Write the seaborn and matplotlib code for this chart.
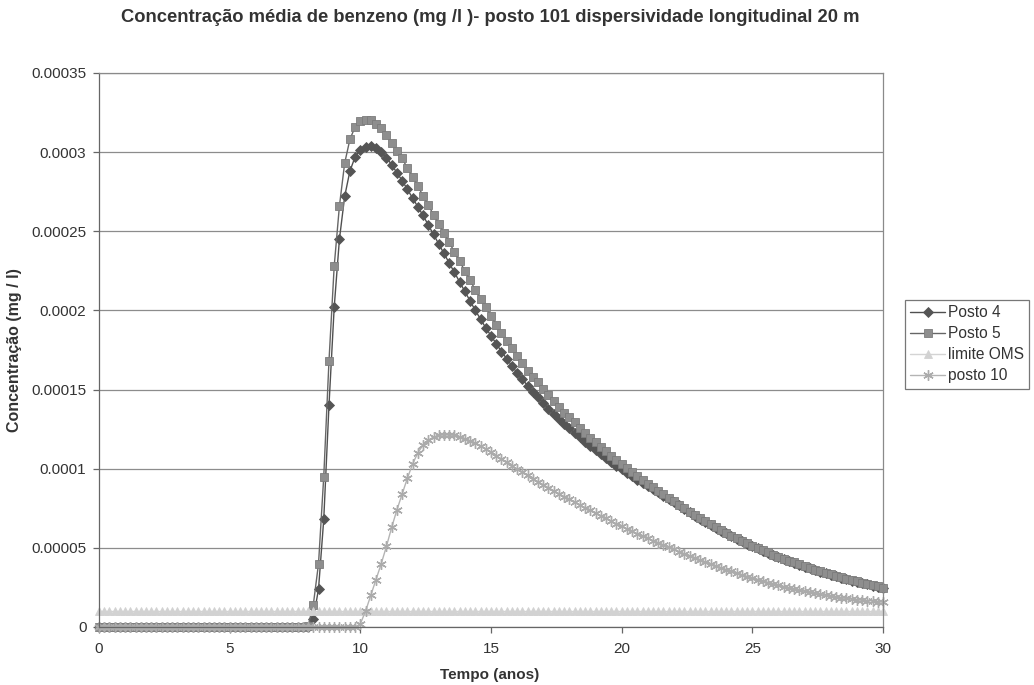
import numpy as np
import pandas as pd
import matplotlib
matplotlib.use("Agg")
import matplotlib.pyplot as plt
import seaborn as sns
from matplotlib.ticker import FuncFormatter, MultipleLocator

# ---------------- data (values in 1e-6 mg/l, time step 0.2 anos) ----------------
tempo = np.round(np.arange(151) * 0.2, 1)

posto4_u = [0] * 40 + [
    0, 5, 24, 68, 140, 202, 245, 272, 288, 297, 301.5, 303.5, 304,
    302.5, 300, 296.5, 292, 287, 282, 276.5, 271, 265.5, 260, 254, 248,
    242, 236, 230, 224, 218, 212, 206, 200, 194.5, 189, 184, 179, 174,
    169.5, 165, 160.5, 156.5, 152.5, 148.5, 145, 141.5, 138, 134.8, 131.6,
    128.5, 125.5,
    122.6, 119.8, 117, 114.3, 111.7, 109.2, 106.7, 104.3, 102, 99.7,
    97.5, 95.3, 93.1, 91, 89, 87, 85, 83, 81, 79,
    76.8, 74.6, 72.5, 70.4, 68.4, 66.4, 64.5, 62.7, 60.9, 59.1,
    57.4, 55.8, 54.2, 52.6, 51.1, 49.6, 48.2, 46.8, 45.5, 44.2,
    42.9, 41.7, 40.5, 39.3, 38.2, 37.1, 36.0, 35.0, 34.0, 33.0,
    32.0, 31.1, 30.2, 29.3, 28.5, 27.7, 26.9, 26.1, 25.3, 24.6]

posto5_u = [0] * 40 + [
    0.5, 14, 40, 95, 168, 228, 266, 293, 308, 316, 319.5, 320.5, 320,
    318, 315, 311, 306, 301, 296, 290, 284.5, 278.5, 272.5, 266.5, 260.5,
    254.5, 249, 243, 237, 231, 225, 219, 213, 207.5, 202, 196.5, 191, 186,
    181, 176, 171, 166.5, 162, 158, 154.5, 150.5, 146.5, 142.5, 139,
    135.5, 132.5,
    129.2, 126, 122.8, 119.7, 116.7, 113.8, 111, 108.2, 105.5, 102.8,
    100.2, 97.7, 95.2, 92.8, 90.5, 88.2, 86, 83.8, 81.5, 79.4,
    77.1, 74.9, 72.8, 70.7, 68.7, 66.7, 64.8, 63.0, 61.2, 59.4,
    57.7, 56.1, 54.5, 52.9, 51.4, 49.9, 48.5, 47.1, 45.8, 44.5,
    43.2, 42.0, 40.8, 39.6, 38.5, 37.4, 36.3, 35.3, 34.3, 33.3,
    32.3, 31.4, 30.5, 29.6, 28.8, 28.0, 27.2, 26.4, 25.6, 24.9]

limite_u = [10] * 151

posto10_u = [0] * 50 + [
    2, 10, 20, 30, 40, 51, 63, 74, 84, 94,
    103, 110, 115, 118, 120, 121, 121.5,
    121.5, 121, 120.2, 119, 117.6, 116, 114.2, 112.3, 110.3, 108.2,
    106.1, 104.0, 101.9, 99.8, 97.8, 95.8, 93.8, 91.8, 89.9, 88.0,
    86.1, 84.2, 82.4, 80.6, 78.8, 77.1, 75.4, 73.7, 72.0, 70.3,
    68.6, 66.9, 65.2, 63.5, 62.0, 60.5, 59.0, 57.5, 56.0, 54.6,
    53.2, 51.8, 50.4, 49.0, 47.6, 46.2, 44.9, 43.6, 42.3, 41.0,
    39.8, 38.6, 37.4, 36.2, 35.1, 34.0, 32.9, 31.9, 30.9, 29.9,
    29.0, 28.1, 27.2, 26.3, 25.5, 24.7, 23.9, 23.2, 22.5, 21.8,
    21.2, 20.6, 20.0, 19.5, 19.0, 18.5, 18.1, 17.7, 17.3, 17.0,
    16.7, 16.4, 16.1, 15.9]

series_names = ["Posto 4", "Posto 5", "limite OMS", "posto 10"]
for s in (posto4_u, posto5_u, limite_u, posto10_u):
    assert len(s) == len(tempo), len(s)

posto4 = np.array(posto4_u) * 1e-6
posto5 = np.array(posto5_u) * 1e-6
limite = np.array(limite_u) * 1e-6
posto10 = np.array(posto10_u) * 1e-6

title = "Concentração média de benzeno (mg /l )- posto 101 dispersividade longitudinal 20 m"
xlabel = "Tempo (anos)"
ylabel = "Concentração (mg / l)"

# ---------------- styling ----------------
sns.set_theme(style="white")
plt.rcParams["font.family"] = ["Liberation Sans", "DejaVu Sans"]

fig = plt.figure(figsize=(10.34, 6.85), dpi=100)
ax = fig.add_axes([99 / 1034, 1 - 627 / 685, (883 - 99) / 1034, (627 - 73) / 685])

styles = [
    dict(marker="D", color="#505050", mfc="#555555", mec="#555555", ms=5.5, lw=1.0),
    dict(marker="s", color="#666666", mfc="#8e8e8e", mec="#7c7c7c", ms=6.0, lw=1.0),
    dict(marker="^", color="#d4d4d4", mfc="#d2d2d2", mec="#d2d2d2", ms=6.0, lw=1.0),
    dict(marker=(6, 2, 0), color="#b4b4b4", mfc="#ababab", mec="#ababab", ms=7.5, lw=1.0, mew=1.0),
]
values = [posto4, posto5, limite, posto10]

for name, vals, st in zip(series_names, values, styles):
    df = pd.DataFrame({"tempo": tempo, "conc": vals})
    sns.lineplot(data=df, x="tempo", y="conc", ax=ax, label=name,
                 color=st["color"], marker=st["marker"],
                 markerfacecolor=st["mfc"], markeredgecolor=st["mec"],
                 markersize=st["ms"], linewidth=st["lw"],
                 markeredgewidth=st.get("mew", 0.6), clip_on=False)

ax.set_xlim(0, 30)
ax.set_ylim(0, 0.00035)
ax.xaxis.set_major_locator(MultipleLocator(5))
ax.yaxis.set_major_locator(MultipleLocator(0.00005))


def yfmt(v, pos):
    if abs(v) < 1e-12:
        return "0"
    return f"{v:.5f}".rstrip("0").rstrip(".")


ax.yaxis.set_major_formatter(FuncFormatter(yfmt))
ax.xaxis.set_major_formatter(FuncFormatter(lambda v, p: f"{int(round(v))}"))

ax.grid(axis="y", color="#8c8c8c", linewidth=0.9)
ax.grid(axis="x", visible=False)
ax.set_axisbelow(True)
for sp in ax.spines.values():
    sp.set_color("#8a8a8a")
    sp.set_linewidth(0.9)
ax.spines["left"].set_color("#666666")
ax.spines["bottom"].set_color("#666666")

ax.tick_params(axis="both", which="major", direction="out", length=4,
               width=0.9, color="#666666", labelsize=11, labelcolor="#333333",
               left=True, bottom=True)
ax.tick_params(axis="x", pad=7)
ax.tick_params(axis="y", pad=5)
ax.set_xlabel("")
ax.set_ylabel("")

fig.text(490 / 1034, 1 - 18 / 685, title, ha="center", va="center",
         fontsize=13.2, fontweight="bold", color="#333333")
fig.text(490 / 1034, 1 - 675 / 685, xlabel, ha="center", va="center",
         fontsize=11, fontweight="bold", color="#333333")
fig.text(15 / 1034, 1 - 350 / 685, ylabel, ha="center", va="center",
         rotation=90, fontsize=11.5, fontweight="bold", color="#333333")

leg = ax.legend(loc="upper left", bbox_to_anchor=(905 / 1034, 1 - 300 / 685),
                bbox_transform=fig.transFigure, frameon=True, fancybox=False,
                shadow=False, fontsize=11.2, handlelength=2.2, handletextpad=0.2,
                borderpad=0.35, labelspacing=0.38, borderaxespad=0)
leg.get_frame().set_edgecolor("#555555")
leg.get_frame().set_linewidth(0.9)
for t in leg.get_texts():
    t.set_color("#333333")

fig.savefig("out.png", dpi=100)
